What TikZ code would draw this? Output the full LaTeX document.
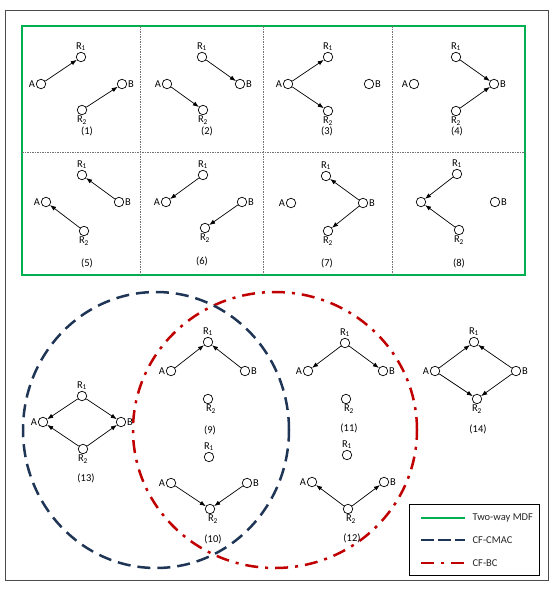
\documentclass[tikz,border=0pt]{standalone}
\usepackage{fontspec}
\setmainfont{Carlito}
\usetikzlibrary{arrows.meta}
\definecolor{mdfgreen}{HTML}{00B050}
\definecolor{cmacblue}{HTML}{1F3556}
\definecolor{bcred}{HTML}{C00000}
\tikzset{
  stn/.style={circle, draw, fill=white, minimum size=9.5pt, inner sep=0pt, line width=0.7pt},
  link/.style={-{Latex[length=6pt,width=4.5pt]}, line width=0.7pt},
  divider/.style={black!55, line width=0.6pt, dash pattern=on 1.5pt off 1pt},
  mdf/.style={mdfgreen, line width=2.5pt},
  cmac/.style={cmacblue, line width=2.5pt, dash pattern=on 13pt off 7pt},
  bc/.style={bcred, line width=2.5pt, dash pattern=on 13pt off 7pt on 3pt off 7pt},
  legtxt/.style={right=3pt, text=black!85, font=\fontsize{10.5}{12}\selectfont}
}
\begin{document}
\begin{tikzpicture}[x=1pt, y=-1pt, font=\fontsize{10.5}{12}\selectfont,
  every label/.style={inner sep=0.3pt}, label distance=0.5pt]
\useasboundingbox (0,0) rectangle (554,600);
\draw[black!70, line width=0.8pt] (5,10) rectangle (548,580);
\draw[mdf] (22,26) rectangle (525,275);
\draw[divider] (140,26) -- (140,275);
\draw[divider] (263,26) -- (263,275);
\draw[divider] (392,26) -- (392,275);
\draw[divider] (22,152) -- (525,152);
\draw[bc] (275,430) ellipse [x radius=142pt, y radius=138pt];
\draw[cmac] (156,430) ellipse [x radius=133pt, y radius=138pt];
\foreach \n/\ax/\ay/\px/\py/\qx/\qy/\bx/\by/\tx/\ty/\la/\sh in {
  1/41/84/81/57/82/110/122/84/87/131/A/0,
  2/167/84/202/57/203/110/240/84/207/131/A/0,
  3/288/84/328/57/328/111/369/84/327/131/A/0,
  4/414/84/456/57/456/111/494/84/457/131/A/0,
  5/46/202/82/175/84/231/119/202/87/263/A/0,
  6/166/202/203/175/205/228/242/202/202/261/A/0,
  7/291/203/326/176/328/231/363/203/327/263/A/0,
  8/421/202/457/174/459/230/495/202/459/263/{}/0,
  9/171/371/208/342/208/399/245/371/210/430/A/3,
  10/171/483/209/457/210/509/247/483/213/539/A/3,
  11/308/371/345/343/346/399/383/371/349/428/A/3,
  12/312/482/347/455/348/509/384/482/352/538/A/3,
  13/43/422/82/396/83/449/121/422/86/478/A/0,
  14/435/371/474/342/477/399/516/371/478/429/A/0} {
  \node[stn, label=left:\la] (a\n) at (\ax,\ay) {};
  \node[stn, label=above:R\textsubscript{1}] (rone\n) at (\px,\py) {};
  \node[stn, label={[xshift=\sh pt]below:R\textsubscript{2}}] (rtwo\n) at (\qx,\qy) {};
  \node[stn, label=right:B] (b\n) at (\bx,\by) {};
  \node[inner sep=1pt] (cap\n) at (\tx,\ty) {(\n)};
}
\foreach \s/\t in {a1/rone1, rtwo1/b1, a2/rtwo2, rone2/b2, a3/rone3, a3/rtwo3,
  rone4/b4, rtwo4/b4, b5/rone5, rtwo5/a5, rone6/a6, b6/rtwo6, b7/rone7, b7/rtwo7,
  rone8/a8, rtwo8/a8, a9/rone9, b9/rone9, a10/rtwo10, b10/rtwo10,
  rone11/a11, rone11/b11, rtwo12/a12, rtwo12/b12,
  rone13/a13, rtwo13/a13, rone13/b13, rtwo13/b13,
  a14/rone14, b14/rone14, a14/rtwo14, b14/rtwo14}
  \draw[link] (\s) -- (\t);
\draw[line width=0.7pt] (409,504) rectangle (539,575);
\draw[mdf] (421,518) -- (465,518) node[legtxt] (leg1) {Two-way MDF};
\draw[cmac, dash pattern=on 12.5pt off 4.5pt] (421,540) -- (465,540) node[legtxt] (leg2) {CF-CMAC};
\draw[bc] (421,563) -- (465,563) node[legtxt] (leg3) {CF-BC};
\end{tikzpicture}
\end{document}
